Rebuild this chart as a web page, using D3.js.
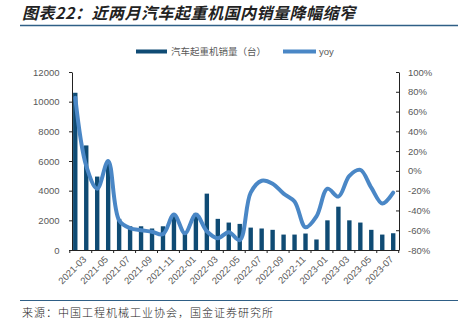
<!DOCTYPE html>
<html><head><meta charset="utf-8">
<script src="https://cdn.jsdelivr.net/npm/d3@7"></script>
<style>
html,body{margin:0;padding:0;background:#fff;}
svg{display:block;}
</style></head>
<body>
<svg id="c" width="458" height="324"></svg>
<script>
const months = ["2021-03","2021-04","2021-05","2021-06","2021-07","2021-08","2021-09","2021-10","2021-11","2021-12",
"2022-01","2022-02","2022-03","2022-04","2022-05","2022-06","2022-07","2022-08","2022-09","2022-10","2022-11","2022-12",
"2023-01","2023-02","2023-03","2023-04","2023-05","2023-06","2023-07","2023-08"];
const sales = [10600,7050,4950,5800,2100,1600,1600,1450,1600,2300,1200,2500,3800,2100,1850,1760,1510,1450,1360,1040,1040,1110,710,2000,2920,2000,1850,1360,1040,1130];
const yoy = [74,5,-18,10,-50,-58,-60,-61.5,-64,-44,-63,-44,-61,-68,-62,-70,-22,-10,-13,-23,-31,-57,-46,-18,-26,-5,1,-17,-33,-22];
const leftTicks = [0,2000,4000,6000,8000,10000,12000];
const rightTicks = [-80,-60,-40,-20,0,20,40,60,80,100];
const title = "图表22：近两月汽车起重机国内销量降幅缩窄";
const source = "来源：中国工程机械工业协会，国金证券研究所";
const legendNames = ["汽车起重机销量（台）","yoy"];

const barColor = "#0f4b74", lineColor = "#4a87c6", txt = "#595959";
const svg = d3.select("#c");
const font = "'Liberation Sans', Arial, sans-serif";
const cjk = "'Noto Sans CJK SC', sans-serif";

// title
svg.append("text").attr("x",22).attr("y",19).text(title)
  .attr("font-family",cjk).attr("font-size",16).attr("font-weight","bold")
  .attr("font-style","italic").attr("letter-spacing",0.5).attr("fill","#222");
svg.append("line").attr("x1",20).attr("x2",458).attr("y1",25.5).attr("y2",25.5)
  .attr("stroke","#2f5f86").attr("stroke-width",1.5);

const x = d3.scaleBand().domain(months).range([69.8,398.7]).padding(0);
const yL = d3.scaleLinear().domain([0,12000]).range([250,72]);
const yR = d3.scaleLinear().domain([-80,100]).range([250,72]);
const bw = x.bandwidth();
const barW = bw*0.4;

// bars
svg.append("g").selectAll("rect").data(months).join("rect")
  .attr("x",d=>x(d)+(bw-barW)/2).attr("width",barW)
  .attr("y",(d,i)=>yL(sales[i])).attr("height",(d,i)=>yL(0)-yL(sales[i]))
  .attr("fill",barColor);

// line
const line = d3.line().x((d,i)=>x(months[i])+bw/2).y(d=>yR(d)).curve(d3.curveCatmullRom.alpha(0.5));
svg.append("path").datum(yoy).attr("d",line).attr("fill","none")
  .attr("stroke",lineColor).attr("stroke-width",4).attr("stroke-linecap","round").attr("stroke-linejoin","round");

// left axis
const gL = svg.append("g").attr("transform","translate(72,0)")
  .call(d3.axisLeft(yL).tickValues(leftTicks).tickSize(3).tickPadding(9.5).tickSizeOuter(0).tickFormat(d3.format("d")));
gL.select(".domain").attr("stroke","#222");
gL.selectAll(".tick line").attr("stroke","#222");
gL.selectAll("text").attr("font-family",font).attr("font-size",9.5).attr("fill",txt);

// right axis
const gR = svg.append("g").attr("transform","translate(399,0)")
  .call(d3.axisRight(yR).tickValues(rightTicks).tickSize(-3).tickPadding(9).tickSizeOuter(0)
    .tickFormat(d=>d+"%"));
gR.select(".domain").attr("stroke","#222");
gR.selectAll(".tick line").attr("stroke","#222");
gR.selectAll("text").attr("font-family",font).attr("font-size",9.5).attr("fill",txt);

// bottom axis
const gB = svg.append("g").attr("transform","translate(0,250)")
  .call(d3.axisBottom(x).tickValues(months.filter((d,i)=>i%2===0)).tickSize(0).tickSizeOuter(0).tickPadding(6));
gB.select(".domain").attr("stroke","#222");
gB.selectAll(".tick text").attr("font-family",font).attr("font-size",9.5).attr("fill",txt)
  .attr("text-anchor","end").attr("transform",`translate(${bw/2+1},2) rotate(-45)`).attr("dy","0.35em").attr("y",6).attr("x",-2);
const bTicks = months.filter((d,i)=>i%2===0).map(d=>x(d)).concat([x.range()[1]]);
gB.selectAll("line.bt").data(bTicks).join("line").attr("class","bt")
  .attr("x1",d=>d).attr("x2",d=>d).attr("y1",0).attr("y2",3).attr("stroke","#222");

// legend
const lg = svg.append("g").attr("font-family",cjk).attr("font-size",9.5).attr("fill",txt);
lg.append("rect").attr("x",136).attr("y",49.5).attr("width",31).attr("height",4).attr("fill",barColor);
lg.append("text").attr("x",171).attr("y",55).text(legendNames[0]);
lg.append("line").attr("x1",283).attr("x2",316).attr("y1",51.5).attr("y2",51.5)
  .attr("stroke",lineColor).attr("stroke-width",4);
lg.append("text").attr("x",319).attr("y",55).attr("font-family",font).text(legendNames[1]);

// footer
svg.append("line").attr("x1",20).attr("x2",458).attr("y1",300.5).attr("y2",300.5)
  .attr("stroke","#2f5f86").attr("stroke-width",1.2);
svg.append("text").attr("x",22).attr("y",317).text(source)
  .attr("font-family",cjk).attr("font-size",11).attr("letter-spacing",1).attr("font-weight",300).attr("fill","#222");
</script>
</body></html>
